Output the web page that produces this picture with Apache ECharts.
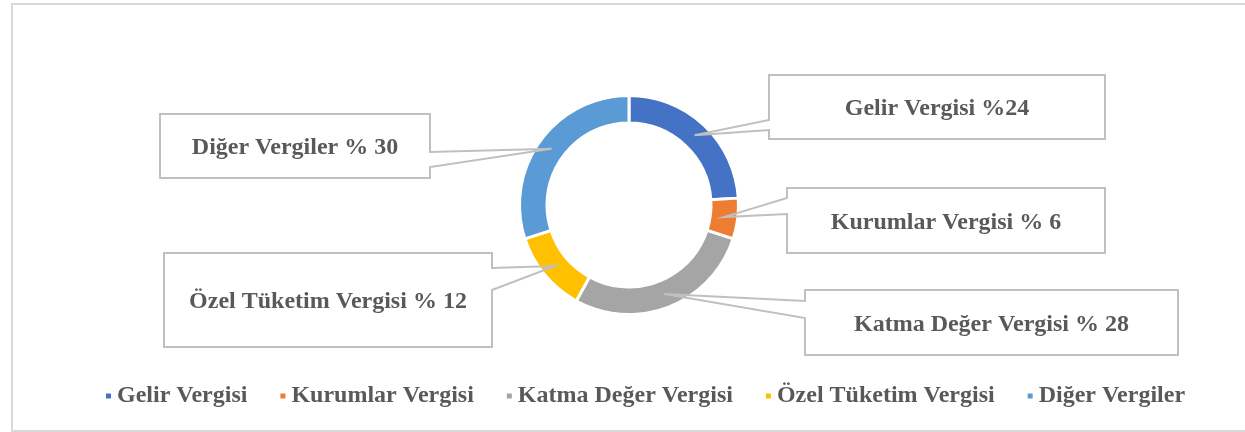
<!DOCTYPE html>
<html>
<head>
<meta charset="utf-8">
<script src="https://cdn.jsdelivr.net/npm/echarts@6/dist/echarts.min.js"></script>
<style>
html,body{margin:0;padding:0;background:#fff;}
#c{width:1245px;height:432px;}
</style>
</head>
<body>
<div id="c"></div>
<script>
// ---- data ----
const categories = ['Gelir Vergisi', 'Kurumlar Vergisi', 'Katma Değer Vergisi', 'Özel Tüketim Vergisi', 'Diğer Vergiler'];
const values = [24, 6, 28, 12, 30];
const labelTexts = ['Gelir Vergisi %24', 'Kurumlar Vergisi % 6', 'Katma Değer Vergisi % 28', 'Özel Tüketim Vergisi % 12', 'Diğer Vergiler % 30'];
const colors = ['#4472C4', '#ED7D31', '#A5A5A5', '#FFC000', '#5B9BD5'];

// ---- layout of callout boxes (x0, y0, x1, y1, side of tail, tail base y0, y1) ----
const boxes = [
  { x0: 769, y0: 75,  x1: 1105, y1: 139, side: 'left',  b0: 120, b1: 130 },
  { x0: 787, y0: 188, x1: 1105, y1: 253, side: 'left',  b0: 198, b1: 214 },
  { x0: 805, y0: 290, x1: 1178, y1: 355, side: 'left',  b0: 301, b1: 318 },
  { x0: 164, y0: 253, x1: 492,  y1: 347, side: 'right', b0: 268, b1: 290 },
  { x0: 160, y0: 114, x1: 430,  y1: 178, side: 'right', b0: 152, b1: 167 }
];

const FONT = '"Liberation Serif", "Times New Roman", serif';
const TXT = '#595959';

const chart = echarts.init(document.getElementById('c'), null, { renderer: 'canvas' });

const option = {
  animation: false,
  backgroundColor: '#ffffff',
  color: colors,
  legend: {
    data: categories,
    left: 99,
    top: 379,
    itemWidth: 7,
    itemHeight: 7,
    itemGap: 31,
    icon: 'rect',
    textStyle: { fontFamily: FONT, fontWeight: 'bold', fontSize: 24, color: TXT }
  },
  series: [{
    type: 'pie',
    center: [629, 205],
    radius: [82, 109.5],
    startAngle: 90,
    clockwise: true,
    avoidLabelOverlap: false,
    z: 2,
    itemStyle: { borderColor: '#ffffff', borderWidth: 3 },
    label: {
      show: true,
      position: 'outside',
      formatter: p => labelTexts[p.dataIndex],
      fontFamily: FONT,
      fontWeight: 'bold',
      fontSize: 24,
      color: TXT
    },
    labelLine: { show: false },
    labelLayout: p => {
      const b = boxes[p.dataIndex];
      return { x: (b.x0 + b.x1) / 2, y: (b.y0 + b.y1) / 2 + 2, align: 'center', verticalAlign: 'middle' };
    },
    data: categories.map((n, i) => ({ name: n, value: values[i] }))
  }]
};
chart.setOption(option);

// callouts anchored at the middle of each slice, using the library's own pie layout
const graphics = [{
  type: 'rect', z: 0, silent: true,
  shape: { x: 12, y: 4, width: 1300, height: 427 },
  style: { fill: 'none', stroke: '#d9d9d9', lineWidth: 2 }
}];
try {
  const data = chart.getModel().getSeriesByIndex(0).getData();
  boxes.forEach((b, i) => {
    const L = data.getItemLayout(i);
    const a = (L.startAngle + L.endAngle) / 2;
    const rr = (L.r + L.r0) / 2;
    const ax = L.cx + rr * Math.cos(a);
    const ay = L.cy + rr * Math.sin(a);
    let pts;
    if (b.side === 'left') {
      pts = [[b.x0, b.y0], [b.x1, b.y0], [b.x1, b.y1], [b.x0, b.y1], [b.x0, b.b1], [ax, ay], [b.x0, b.b0]];
    } else {
      pts = [[b.x0, b.y0], [b.x1, b.y0], [b.x1, b.b0], [ax, ay], [b.x1, b.b1], [b.x1, b.y1], [b.x0, b.y1]];
    }
    graphics.push({
      type: 'polygon', z: 10, silent: true,
      shape: { points: pts },
      style: { fill: 'none', stroke: '#c0c0c0', lineWidth: 2, lineJoin: 'miter' }
    });
  });
} catch (e) { console.error(e); }
chart.setOption({ graphic: graphics });
</script>
</body>
</html>
